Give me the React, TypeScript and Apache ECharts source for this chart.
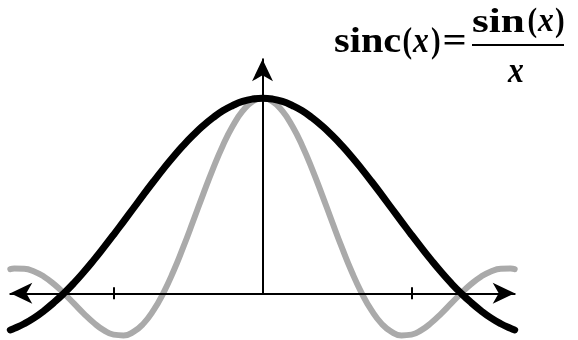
import React, { useEffect, useRef } from "react";
import * as echarts from "echarts";

// x positions (axis units: ticks at ±1.5)
const xs = [
  -2.54, -2.5, -2.4, -2.3, -2.2, -2.1, -2, -1.9, -1.8, -1.7, -1.6, -1.5, -1.4,
  -1.3, -1.2, -1.1, -1, -0.9, -0.8, -0.7, -0.6, -0.5, -0.4, -0.3, -0.2, -0.1,
  0, 0.1, 0.2, 0.3, 0.4, 0.5, 0.6, 0.7, 0.8, 0.9, 1, 1.1, 1.2, 1.3, 1.4, 1.5,
  1.6, 1.7, 1.8, 1.9, 2, 2.1, 2.2, 2.3, 2.4, 2.5, 2.54,
];

// black (wide) curve
const blackValues = [
  -0.188, -0.18, -0.156, -0.126, -0.089, -0.047, 0, 0.052, 0.109, 0.17, 0.234,
  0.3, 0.368, 0.436, 0.505, 0.572, 0.637, 0.699, 0.757, 0.81, 0.858, 0.9, 0.936,
  0.963, 0.984, 0.996, 1, 0.996, 0.984, 0.963, 0.936, 0.9, 0.858, 0.81, 0.757,
  0.699, 0.637, 0.572, 0.505, 0.436, 0.368, 0.3, 0.234, 0.17, 0.109, 0.052, 0,
  -0.047, -0.089, -0.126, -0.156, -0.18, -0.188,
];

// gray (narrow) curve
const grayValues = [
  0.124, 0.127, 0.126, 0.112, 0.085, 0.047, 0, -0.052, -0.104, -0.151, -0.189,
  -0.212, -0.216, -0.198, -0.156, -0.089, 0, 0.109, 0.234, 0.368, 0.505, 0.637,
  0.757, 0.858, 0.935, 0.984, 1, 0.984, 0.935, 0.858, 0.757, 0.637, 0.505,
  0.368, 0.234, 0.109, 0, -0.089, -0.156, -0.198, -0.216, -0.212, -0.189,
  -0.151, -0.104, -0.052, 0, 0.047, 0.085, 0.112, 0.126, 0.127, 0.124,
];

const tickValues = [-1.5, 1.5];
const xMin = -2.54;
const xMax = 2.54;
const yMin = 0;
const yMax = 1.2;

const ARROW = "path://M0,0L10.5,22L0,16L-10.5,22Z";
const FONT_FAMILY = "Liberation Serif";

function piece(
  text: string,
  x: number,
  baseline: number,
  sx: number,
  fs: number,
  italic = false
) {
  return {
    type: "text",
    x,
    y: baseline - 0.3375 * fs,
    scaleX: sx,
    style: {
      text,
      fontFamily: FONT_FAMILY,
      fontSize: fs,
      fontWeight: "bold",
      fontStyle: italic ? "italic" : "normal",
      lineHeight: 28,
      fill: "#000",
      align: "left",
      verticalAlign: "middle",
    },
  };
}

export default function App() {
  const ref = useRef<HTMLDivElement>(null);

  useEffect(() => {
    document.body.style.margin = "0";
    if (!ref.current) return;
    const chart = echarts.init(ref.current, undefined, { renderer: "svg" });
    const axisLineStyle = { color: "#000", width: 2 };
    const option = {
      animation: false,
      grid: { left: 10.3, right: 63.3, top: 59.3, bottom: 46.7 },
      xAxis: [
        {
          type: "value",
          min: xMin,
          max: xMax,
          z: 5,
          axisLine: {
            show: true,
            onZero: true,
            symbol: [ARROW, ARROW],
            symbolSize: [21, 22],
            symbolOffset: [11, -11],
            lineStyle: axisLineStyle,
          },
          axisTick: {
            show: true,
            inside: false,
            length: 6,
            customValues: tickValues,
            lineStyle: axisLineStyle,
          },
          axisLabel: { show: false },
          splitLine: { show: false },
        },
        {
          type: "value",
          min: xMin,
          max: xMax,
          z: 5,
          position: "bottom",
          axisLine: { show: false },
          axisTick: {
            show: true,
            inside: true,
            length: 6,
            customValues: tickValues,
            lineStyle: axisLineStyle,
          },
          axisLabel: { show: false },
          splitLine: { show: false },
        },
      ],
      yAxis: {
        type: "value",
        min: yMin,
        max: yMax,
        z: 5,
        axisLine: {
          show: true,
          onZero: true,
          symbol: ["none", ARROW],
          symbolSize: [21, 22],
          symbolOffset: [0, -11],
          lineStyle: axisLineStyle,
        },
        axisTick: { show: false },
        axisLabel: { show: false },
        splitLine: { show: false },
      },
      series: [
        {
          type: "line",
          name: "gray",
          data: xs.map((x, i) => [x, grayValues[i]]),
          smooth: true,
          showSymbol: false,
          clip: false,
          z: 2,
          lineStyle: { color: "#aaaaaa", width: 6, cap: "round", join: "round" },
        },
        {
          type: "line",
          name: "black",
          data: xs.map((x, i) => [x, blackValues[i]]),
          smooth: true,
          showSymbol: false,
          clip: false,
          z: 3,
          lineStyle: { color: "#000000", width: 7, cap: "round", join: "round" },
        },
      ],
      graphic: [
        piece("sinc", 334, 52, 1.12, 36),
        piece("(", 402.5, 52, 0.8, 36),
        piece("x", 413, 52, 0.88, 36, true),
        piece(")", 431, 52, 0.8, 36),
        piece("=", 442.5, 52, 1.18, 36),
        piece("sin", 472, 31.5, 1.27, 34),
        piece("(", 527.5, 31.5, 0.85, 34),
        piece("x", 538, 31.5, 0.93, 34, true),
        piece(")", 555, 31.5, 0.85, 34),
        {
          type: "line",
          shape: { x1: 472, y1: 45, x2: 564, y2: 45 },
          style: { stroke: "#000", lineWidth: 2 },
        },
        piece("x", 508, 81.7, 0.88, 36, true),
      ],
    };
    chart.setOption(option as any);
    return () => chart.dispose();
  }, []);

  return (
    <div
      ref={ref}
      style={{ position: "fixed", left: 0, top: 0, width: 578, height: 340 }}
    />
  );
}
